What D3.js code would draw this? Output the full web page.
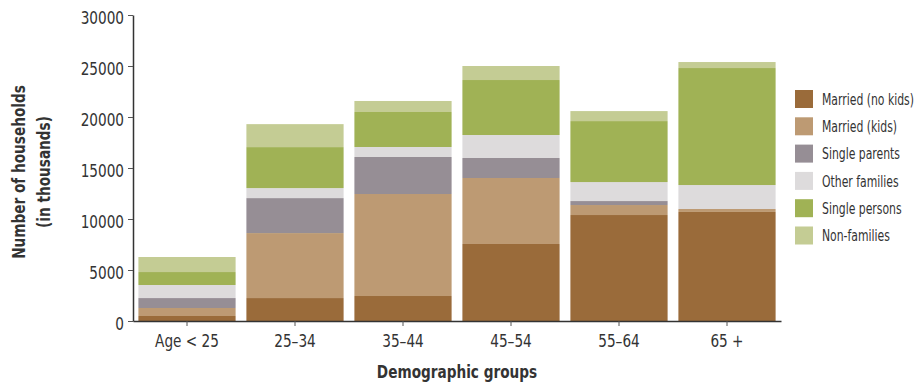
<!DOCTYPE html>
<html>
<head>
<meta charset="utf-8">
<script src="https://cdn.jsdelivr.net/npm/d3@7"></script>
<style>
  html, body { margin: 0; padding: 0; background: #fff; }
  svg { display: block; }
  text { font-family: "DejaVu Sans Condensed", "DejaVu Sans", sans-serif; font-stretch: condensed; fill: #333; }
</style>
</head>
<body>
<svg id="chart" width="918" height="386"></svg>
<script>
// Households by demographic group (thousands), stacked by household type
const categories = ["Age < 25", "25–34", "35–44", "45–54", "55–64", "65 +"];
const seriesNames = ["Married (no kids)", "Married (kids)", "Single parents", "Other families", "Single persons", "Non-families"];
const marriedNoKids = [490, 2250, 2450, 7550, 10390, 10690];
const marriedKids   = [785, 6370, 10000, 6470, 980, 290];
const singleParents = [975, 3430, 3630, 1960, 390, 0];
const otherFamilies = [1280, 980, 980, 2255, 1860, 2350];
const singlePersons = [1270, 4020, 3430, 5390, 5980, 11470];
const nonFamilies   = [1475, 2250, 1080, 1375, 980, 590];
const yTicks = [0, 5000, 10000, 15000, 20000, 25000, 30000];
const colors = ["#9a6b3a", "#bd9a73", "#968e95", "#dddbdc", "#a0b255", "#c4cc94"];

const seriesValues = [marriedNoKids, marriedKids, singleParents, otherFamilies, singlePersons, nonFamilies];
const rows = categories.map((c, i) => {
  const r = { group: c };
  seriesNames.forEach((s, k) => { r[s] = seriesValues[k][i]; });
  return r;
});

const svg = d3.select("#chart");
const x0 = 133, x1 = 781, yTop = 15, yBase = 321;

const x = d3.scaleBand().domain(categories).range([x0, x1]).paddingInner(0.1).paddingOuter(0.05);
const y = d3.scaleLinear().domain([0, 30000]).range([yBase, yTop]);
const color = d3.scaleOrdinal().domain(seriesNames).range(colors);

const stacked = d3.stack().keys(seriesNames)(rows);

svg.append("g")
  .selectAll("g")
  .data(stacked)
  .join("g")
  .attr("fill", d => color(d.key))
  .selectAll("rect")
  .data(d => d)
  .join("rect")
  .attr("x", d => x(d.data.group))
  .attr("width", x.bandwidth())
  .attr("y", d => y(d[1]))
  .attr("height", d => y(d[0]) - y(d[1]));

// Y axis
const yAxis = svg.append("g")
  .attr("transform", `translate(${x0},0)`)
  .call(d3.axisLeft(y).tickValues(yTicks).tickFormat(d3.format("d")).tickSize(5).tickSizeOuter(0).tickPadding(4));
yAxis.selectAll("text").attr("font-size", 18.5).attr("dy", "0.45em");

// X axis
const xAxis = svg.append("g")
  .attr("transform", `translate(0,${yBase})`)
  .call(d3.axisBottom(x).tickSize(5).tickSizeOuter(0).tickPadding(8));
xAxis.selectAll("text").attr("font-size", 18.5);

[yAxis, xAxis].forEach(a => {
  a.attr("font-family", null);
  a.select(".domain").attr("stroke", "#333").attr("stroke-width", 1.5);
  a.selectAll(".tick line").attr("stroke", "#555");
  a.selectAll("text").attr("fill", "#333");
});

// Axis titles
svg.append("text")
  .attr("x", (x0 + x1) / 2).attr("y", 378)
  .attr("text-anchor", "middle")
  .attr("font-size", 18.5).attr("font-weight", "bold")
  .text("Demographic groups");

svg.selectAll("text.ytitle")
  .data(["Number of households", "(in thousands)"])
  .join("text")
  .attr("class", "ytitle")
  .attr("transform", (d, i) => `translate(${19 + i * 25},172) rotate(-90)`)
  .attr("text-anchor", "middle")
  .attr("dy", "0.35em")
  .attr("font-size", 18.5).attr("font-weight", "bold")
  .text(d => d);

// Legend
const legend = svg.append("g").attr("transform", "translate(795,90)");
const item = legend.selectAll("g")
  .data(seriesNames)
  .join("g")
  .attr("transform", (d, i) => `translate(0,${i * 27.3})`);
item.append("rect").attr("width", 18).attr("height", 18).attr("fill", d => color(d));
item.append("text")
  .attr("class", "legend-label")
  .attr("x", 27).attr("y", 9).attr("dy", "0.35em")
  .attr("font-size", 16)
  .attr("fill", "#444")
  .text(d => d);

// Squeeze the lettering horizontally to a condensed face width
const legendMax = d3.max(legend.selectAll("text").nodes(), n => n.getComputedTextLength());
const legendFactor = Math.min(0.82, 92 / legendMax);
svg.selectAll("text").each(function () {
  const f = this.classList.contains("legend-label") ? legendFactor : 0.82;
  const tx = +(this.getAttribute("x") || 0);
  this.setAttribute("x", (tx / f).toFixed(2));
  const t = this.getAttribute("transform") || "";
  this.setAttribute("transform", `${t} scale(${f.toFixed(3)},1)`.trim());
});
</script>
</body>
</html>
